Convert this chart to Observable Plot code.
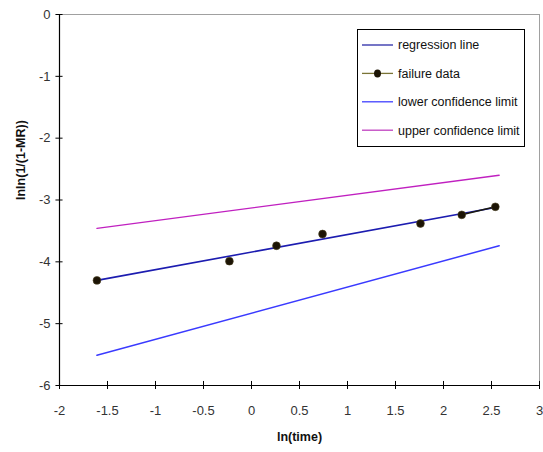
<!DOCTYPE html>
<html>
<head>
<meta charset="utf-8">
<script src="https://cdn.jsdelivr.net/npm/d3@7"></script>
<script src="https://cdn.jsdelivr.net/npm/@observablehq/plot@0.6"></script>
<style>
  html, body { margin: 0; padding: 0; background: #fff; }
  #chart { position: relative; width: 543px; height: 452px; }
</style>
</head>
<body>
<div id="chart"></div>
<script>
// ---- data ----
const failureX = [-1.61, -0.23, 0.26, 0.74, 1.76, 2.19, 2.54];
const failureY = [-4.30, -3.99, -3.74, -3.55, -3.38, -3.24, -3.11];
const regressionX = [-1.61, 2.54];
const regressionY = [-4.30, -3.12];
const lowerX = [-1.61, 2.58];
const lowerY = [-5.51, -3.74];
const upperX = [-1.61, 2.58];
const upperY = [-3.46, -2.60];
const xTicks = [-2, -1.5, -1, -0.5, 0, 0.5, 1, 1.5, 2, 2.5, 3];
const yTicks = [0, -1, -2, -3, -4, -5, -6];
const legendLabels = ["regression line", "failure data", "lower confidence limit", "upper confidence limit"];

const pts = (xs, ys) => xs.map((x, i) => ({x, y: ys[i]}));
const failure = pts(failureX, failureY);
const failureSeg = failure.slice(-2);

const font = "'Liberation Sans', Arial, sans-serif";
const plot = Plot.plot({
  width: 543,
  height: 452,
  marginLeft: 59,
  marginRight: 4,
  marginTop: 14,
  marginBottom: 67,
  x: {domain: [-2, 3]},
  y: {domain: [-6, 0]},
  style: {fontFamily: font, fontSize: "13px", background: "#fff"},
  marks: [
    Plot.frame({stroke: "#a0a0a0"}),
    Plot.ruleX([-2], {stroke: "#000", strokeWidth: 1.2}),
    Plot.ruleY([-6], {stroke: "#000", strokeWidth: 1.2}),
    Plot.ruleX(xTicks, {x: d => d, y1: -6.065, y2: -5.935, stroke: "#000"}),
    Plot.ruleY(yTicks, {y: d => d, x1: -2.037, x2: -1.963, stroke: "#000"}),
    Plot.axisX({ticks: xTicks, tickSize: 0, tickPadding: 20, tickFormat: d => String(d), fill: "#333", fontSize: 13, label: null}),
    Plot.axisY({ticks: yTicks, tickSize: 0, tickPadding: 9, tickFormat: d => String(d), fill: "#333", fontSize: 13, label: null}),
    Plot.text(["ln(time)"], {frameAnchor: "bottom", dy: 55, fontWeight: "bold", fontSize: 12.5, fill: "#111"}),
    Plot.text(["lnln(1/(1-MR))"], {frameAnchor: "left", dx: -39, rotate: -90, fontWeight: "bold", fontSize: 12.5, fill: "#111"}),
    Plot.line(pts(upperX, upperY), {x: "x", y: "y", stroke: "#c020c0", strokeWidth: 1.3}),
    Plot.line(pts(lowerX, lowerY), {x: "x", y: "y", stroke: "#3a3aff", strokeWidth: 1.5}),
    Plot.line(pts(regressionX, regressionY), {x: "x", y: "y", stroke: "#1c1cb0", strokeWidth: 1.6}),
    Plot.line(failureSeg, {x: "x", y: "y", stroke: "#1a1a10", strokeWidth: 1.6}),
    Plot.dot(failure, {x: "x", y: "y", r: 3.9, fill: "#1c1405", stroke: "#4a4020", strokeWidth: 0.6})
  ]
});
document.getElementById("chart").appendChild(plot);

// ---- legend inside the plot area ----
const svg = d3.select(plot);
const lg = svg.append("g").attr("font-family", font).attr("font-size", 12.5).attr("text-anchor", "start");
lg.append("rect").attr("x", 357.5).attr("y", 29.5).attr("width", 167).attr("height", 117)
  .attr("fill", "#fff").attr("stroke", "#000").attr("stroke-width", 1);
const legendStyles = [
  {stroke: "#2a2aa8", marker: false},
  {stroke: "#7a7436", marker: true},
  {stroke: "#4040ff", marker: false},
  {stroke: "#c040c0", marker: false}
];
legendLabels.forEach((t, i) => {
  const y = 45 + i * 28.4;
  lg.append("line").attr("x1", 362).attr("x2", 393).attr("y1", y).attr("y2", y)
    .attr("stroke", legendStyles[i].stroke).attr("stroke-width", 1.3);
  if (legendStyles[i].marker) {
    lg.append("ellipse").attr("cx", 377.5).attr("cy", y).attr("rx", 3.5).attr("ry", 4)
      .attr("fill", "#1c1405");
  }
  lg.append("text").attr("x", 398).attr("y", y).attr("dy", "0.35em").attr("fill", "#111")
    .attr("text-anchor", "start").text(t);
});
</script>
</body>
</html>
